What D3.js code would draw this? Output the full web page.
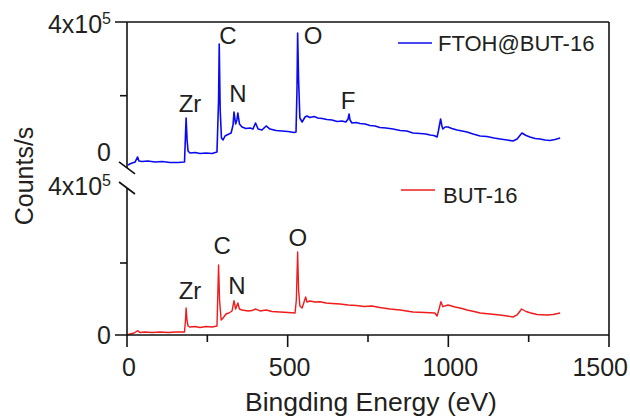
<!DOCTYPE html>
<html>
<head>
<meta charset="utf-8">
<script src="https://cdn.jsdelivr.net/npm/d3@7"></script>
<style>
  body { margin: 0; background: #fff; }
  text { font-family: "Liberation Sans", Arial, sans-serif; fill: #231f20; }
</style>
</head>
<body>
<div id="chart"></div>
<script>
// Survey spectra: binding energy (eV) and counts/s
const blueEnergy = [3, 12, 25, 33, 37, 47, 65, 87, 109, 134, 159, 179, 182, 184, 187, 190, 196, 212, 227, 246, 265, 280,
  285, 287, 290, 294, 299, 305, 314, 324, 330, 333, 338, 342, 345, 350, 358, 370, 383, 392, 400, 408, 420, 433, 445,
  464, 482, 501, 520, 526, 529, 531, 534, 538, 545, 554, 560, 569, 582, 594, 607, 622, 638, 654, 669, 681, 688, 691,
  694, 700, 713, 725, 741, 756, 772, 787, 806, 828, 850, 871, 890, 912, 930, 943, 955, 965, 969, 976, 980, 983, 990,
  999, 1011, 1027, 1043, 1058, 1077, 1099, 1120, 1142, 1161, 1183, 1201, 1214, 1229, 1242, 1254, 1270, 1285, 1301,
  1316, 1332, 1348];
const blueCounts = [11900, 16000, 20000, 33700, 22800, 21400, 22800, 20000, 21400, 18700, 18700, 20000, 93400, 139500,
  79800, 49900, 44500, 45900, 43200, 44500, 43200, 47200, 188300, 340300, 161200, 85200, 79800, 90600, 94700, 98800,
  120500, 155800, 123200, 134100, 153100, 123200, 115100, 111000, 112400, 109600, 125900, 109600, 106900, 117800,
  109600, 105600, 104200, 102900, 100100, 101500, 215500, 370200, 242600, 139500, 128600, 142200, 144900, 140900,
  143600, 139500, 138100, 135400, 134100, 130000, 131400, 128600, 136800, 150400, 134100, 125900, 127300, 124600,
  123200, 119100, 117800, 113700, 112400, 109600, 105600, 104200, 98800, 97400, 96100, 93400, 92000, 87900, 104200,
  136800, 117800, 109600, 115100, 115100, 111000, 106900, 104200, 101500, 96100, 90600, 89300, 85200, 82500, 79800,
  77100, 82500, 98800, 92000, 87900, 83900, 82500, 79800, 78400, 81100, 85200];

const redEnergy = [0, 9, 22, 34, 40, 56, 78, 103, 128, 152, 179, 182, 184, 187, 190, 196, 212, 227, 246, 265, 280, 283,
  285, 288, 293, 299, 308, 317, 327, 333, 338, 345, 350, 358, 377, 389, 401, 414, 433, 451, 476, 501, 523, 527, 531,
  534, 538, 545, 556, 560, 569, 585, 601, 619, 638, 663, 688, 713, 738, 762, 787, 818, 850, 890, 927, 958, 965, 972,
  977, 983, 999, 1021, 1043, 1058, 1080, 1099, 1130, 1161, 1183, 1201, 1214, 1228, 1242, 1254, 1276, 1307, 1326, 1348];
const redCounts = [0, 2800, 5600, 11900, 6900, 8300, 6900, 8300, 6900, 8300, 8300, 41700, 75000, 38900, 25000, 22200,
  23600, 20800, 23600, 22200, 25000, 125000, 194500, 97200, 41700, 47200, 58300, 61100, 66700, 95300, 72200, 88900,
  72200, 69400, 66700, 68100, 72200, 66700, 69400, 65300, 63900, 62500, 61100, 97200, 230600, 125000, 80600, 75000,
  105600, 91700, 94500, 91700, 92500, 88900, 87500, 86100, 83300, 81900, 79200, 80600, 76400, 72200, 69400, 63900,
  62500, 61100, 52800, 75000, 92500, 78600, 83300, 77800, 73600, 69400, 65300, 61100, 58300, 55600, 52800, 50000,
  55600, 72200, 65300, 61900, 56900, 55600, 56900, 61100];

const xTicks = [0, 500, 1000, 1500];
const xMinorTicks = [250, 750, 1250];
const yTicks = [0, 400000];
const yMinorTicks = [200000];

const bluePeaks = ["Zr", "C", "N", "O", "F"];
const bluePeakE = [196, 314, 345, 579, 688];
const bluePeakC = [180000, 365000, 207000, 365000, 188000];
const redPeaks = ["Zr", "C", "N", "O"];
const redPeakE = [196, 296, 342, 532];
const redPeakC = [125000, 250000, 139000, 270000];

const seriesNames = ["FTOH@BUT-16", "BUT-16"];
const seriesColors = ["#0a0af0", "#ee1c1c"];

const W = 630, H = 416;
const left = 127, right = 609;

const svg = d3.select("#chart").append("svg")
  .attr("width", W).attr("height", H);

const x = d3.scaleLinear().domain([0, 1500]).range([left, right]);
const yUp = d3.scaleLinear().domain([0, 400000]).range([169.4, 22]);
const yLo = d3.scaleLinear().domain([0, 400000]).range([335, 191]);

const line = function(ys) {
  return d3.line().x(function(d) { return x(d[0]); }).y(function(d) { return ys(d[1]); });
};

const blueData = blueEnergy.map(function(e, i) { return [e, blueCounts[i]]; });
const redData = redEnergy.map(function(e, i) { return [e, redCounts[i]]; });

svg.append("path").datum(blueData)
  .attr("d", line(yUp))
  .attr("fill", "none").attr("stroke", seriesColors[0])
  .attr("stroke-width", 1.6).attr("stroke-linejoin", "round");

svg.append("path").datum(redData)
  .attr("d", line(yLo))
  .attr("fill", "none").attr("stroke", seriesColors[1])
  .attr("stroke-width", 1.4).attr("stroke-linejoin", "round");

// frame and axes
const ax = svg.append("g").attr("stroke", "#111").attr("stroke-width", 1.6).attr("fill", "none");
ax.append("line").attr("x1", left - 12).attr("x2", right).attr("y1", yUp(400000)).attr("y2", yUp(400000));
ax.append("line").attr("x1", right).attr("x2", right).attr("y1", yUp(400000)).attr("y2", yLo(0));
ax.append("line").attr("x1", left - 12).attr("x2", right).attr("y1", yLo(0)).attr("y2", yLo(0));
ax.append("line").attr("x1", left).attr("x2", left).attr("y1", yUp(400000)).attr("y2", yUp(0) - 1.5);
ax.append("line").attr("x1", left).attr("x2", left).attr("y1", yLo(400000) - 3).attr("y2", yLo(0));

// axis break marks
[yUp(0) - 1.5, yLo(400000) - 3].forEach(function(yb) {
  ax.append("line").attr("x1", left - 8).attr("x2", left + 8)
    .attr("y1", yb - 6).attr("y2", yb + 6);
});

// x ticks (the last label is pulled in so it stays inside the picture)
xTicks.forEach(function(t, i) {
  ax.append("line").attr("x1", x(t)).attr("x2", x(t)).attr("y1", yLo(0)).attr("y2", yLo(0) + 12);
  const last = i === xTicks.length - 1;
  svg.append("text").attr("x", last ? W - 2 : x(t) + 2).attr("y", 376)
    .attr("text-anchor", last ? "end" : "middle").attr("font-size", 25).text(t);
});
xMinorTicks.forEach(function(t) {
  ax.append("line").attr("x1", x(t)).attr("x2", x(t)).attr("y1", yLo(0)).attr("y2", yLo(0) + 7);
});

// y ticks
yMinorTicks.forEach(function(t) {
  ax.append("line").attr("x1", left - 7).attr("x2", left).attr("y1", yUp(t)).attr("y2", yUp(t));
  ax.append("line").attr("x1", left - 7).attr("x2", left).attr("y1", yLo(t)).attr("y2", yLo(t));
});

function yLabel(v, ypos) {
  const t = svg.append("text").attr("x", 111).attr("y", ypos)
    .attr("text-anchor", "end").attr("font-size", 25);
  if (v === 0) {
    t.text("0");
  } else {
    t.append("tspan").text("4x10");
    t.append("tspan").attr("font-size", 16).attr("dy", -9).text("5");
  }
}
yLabel(yTicks[1], yUp(yTicks[1]) + 11);
yLabel(yTicks[0], yUp(yTicks[0]) - 8);
yLabel(yTicks[1], yLo(yTicks[1]) + 4);
yLabel(yTicks[0], yLo(yTicks[0]) + 9);

// peak labels
bluePeaks.forEach(function(p, i) {
  svg.append("text").attr("x", x(bluePeakE[i])).attr("y", yUp(bluePeakC[i]))
    .attr("dy", "0.36em").attr("text-anchor", "middle").attr("font-size", 24).text(p);
});
redPeaks.forEach(function(p, i) {
  svg.append("text").attr("x", x(redPeakE[i])).attr("y", yLo(redPeakC[i]))
    .attr("dy", "0.36em").attr("text-anchor", "middle").attr("font-size", 24).text(p);
});

// legends
const legendPos = [[398, 43], [401, 190]];
seriesNames.forEach(function(n, i) {
  svg.append("line").attr("x1", legendPos[i][0]).attr("x2", legendPos[i][0] + 34)
    .attr("y1", legendPos[i][1]).attr("y2", legendPos[i][1])
    .attr("stroke", seriesColors[i]).attr("stroke-width", 1.6);
  svg.append("text").attr("x", legendPos[i][0] + 40 + i * 2).attr("y", legendPos[i][1] + (i ? 5 : 0))
    .attr("dy", "0.36em").attr("font-size", 22).text(n);
});

// axis titles
svg.append("text").attr("x", x(750) + 3).attr("y", 411)
  .attr("text-anchor", "middle").attr("font-size", 26.5).text("Bingding Energy (eV)");
svg.append("text").attr("transform", "translate(33,176) rotate(-90)")
  .attr("text-anchor", "middle").attr("font-size", 25).text("Counts/s");
</script>
</body>
</html>
